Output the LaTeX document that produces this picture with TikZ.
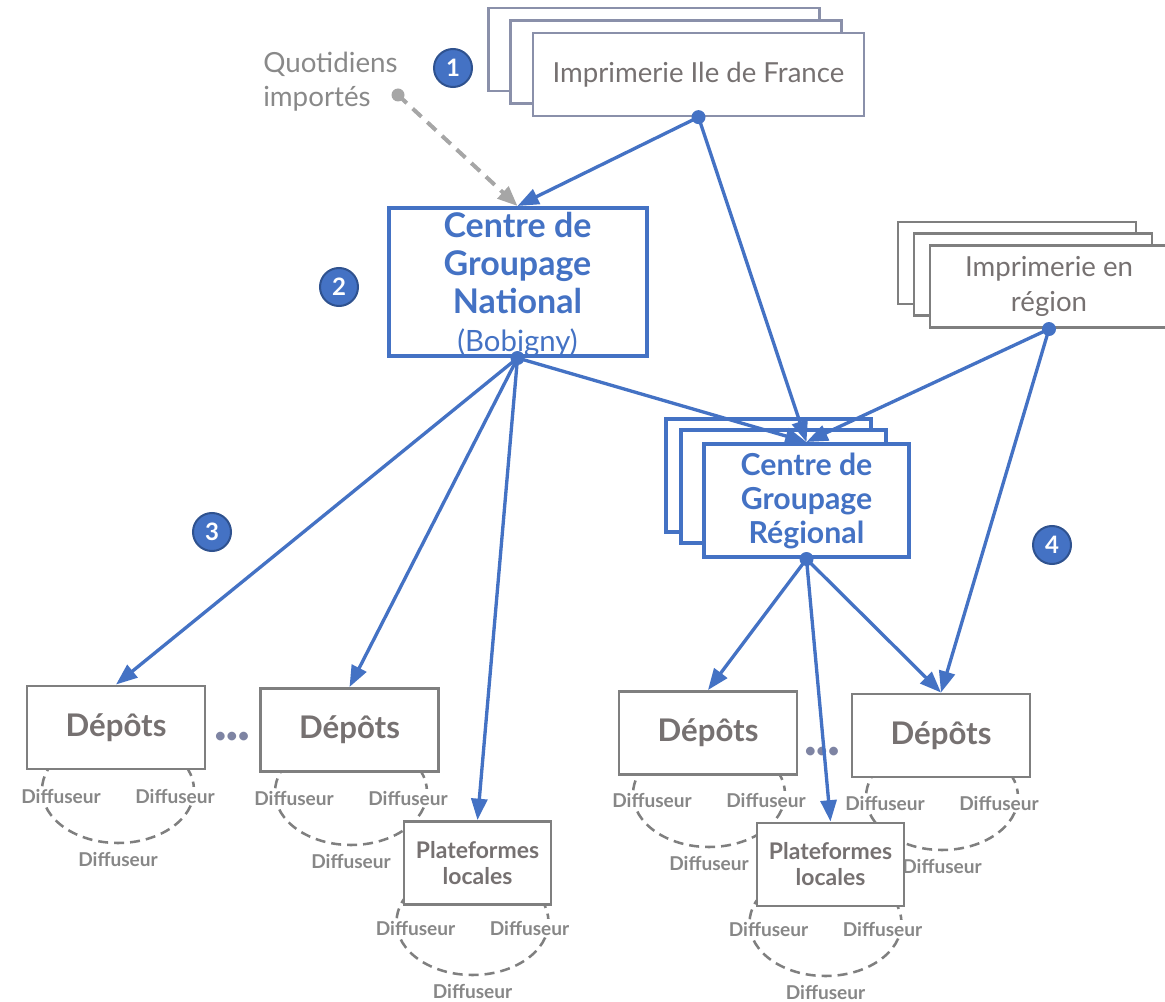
\documentclass[tikz,border=0pt]{standalone}
\usepackage{fontspec}
\setmainfont{Lato}
\usetikzlibrary{arrows.meta}
\definecolor{cblue}{HTML}{4472C4}
\definecolor{cbadge}{HTML}{2F528F}
\definecolor{cgtext}{HTML}{767171}
\definecolor{cgline}{HTML}{7F7F7F}
\definecolor{cidf}{HTML}{8A90AA}
\definecolor{cdash}{HTML}{A6A6A6}
\definecolor{cdots}{HTML}{7E84A3}
\definecolor{cquot}{HTML}{898989}
\definecolor{cdiff}{HTML}{878787}
\newcommand\diffcluster[3]{%
  \draw[arcline] (#2,#3) ellipse [x radius=76, y radius=53];
  \node[diff] (#1l) at (#2-57,#3+6) {Diffuseur};
  \node[diff] (#1r) at (#2+57,#3+6) {Diffuseur};
  \node[diff] (#1b) at (#2,#3+69) {Diffuseur};
}
\begin{document}
\begin{tikzpicture}[x=0.75pt,y=-0.75pt,
  sz/.style 2 args={minimum width=#1*0.75pt, minimum height=#2*0.75pt},
  box/.style={rectangle, draw, fill=white, inner sep=0pt, align=center},
  idfbox/.style={box, draw=cidf, line width=1.7pt, sz={331}{83}},
  regbox/.style={box, draw=cgline, line width=2pt, sz={238}{82}},
  cgrbox/.style={box, draw=cblue, line width=3pt, sz={205}{113}},
  depbox/.style={box, draw=cgline, line width=2.2pt, sz={178}{83}, text=cgtext,
    font=\fontsize{23.4}{26}\selectfont\bfseries},
  plbox/.style={box, draw=cgline, line width=2.2pt, sz={147}{83}, text=cgtext,
    font=\fontsize{17.2}{19.5}\selectfont\bfseries},
  diff/.style={fill=white, inner sep=1.2pt, text=cdiff,
    font=\fontsize{14.3}{16}\selectfont\bfseries},
  arcline/.style={draw=cgline, line width=1.9pt, dash pattern=on 7.5pt off 4.5pt},
  badge/.style={circle, fill=cblue, draw=cbadge, line width=1.5pt,
    minimum size=38*0.75pt, inner sep=0pt, text=white,
    font=\fontsize{18}{18}\selectfont\bfseries},
  srcdot/.style={circle, fill=cblue, inner sep=0pt, minimum size=14*0.75pt},
  flow/.style={draw=cblue, line width=2.5pt, -{Triangle[length=16pt,width=12pt]}},
  qflow/.style={draw=cdash, line width=3pt, dash pattern=on 9pt off 6pt,
    -{Triangle[length=15pt,width=12pt]}},
  dotsnode/.style={text=cdots, font=\fontsize{15}{15}\selectfont\bfseries, inner sep=0pt}
]
\useasboundingbox (0,0) rectangle (1165,1002);

% Diffuseur rings
\diffcluster{d1}{118}{790}
\diffcluster{d2}{351}{792}
\diffcluster{p1}{472.5}{922}
\diffcluster{d3}{709}{794}
\diffcluster{d4}{942}{797}
\diffcluster{p2}{825.5}{923}

% Imprimerie Ile de France (stack)
\node[idfbox] (idfA) at (654,49.5) {};
\node[idfbox] (idfB) at (676,62) {};
\node[idfbox, text=cgtext, font=\fontsize{20.7}{24}\selectfont] (idf) at (698.5,74.5) {Imprimerie Ile de France};

% Imprimerie en region (stack)
\node[regbox] (regA) at (1017,263) {};
\node[regbox] (regB) at (1033,274.5) {};
\node[regbox, text=cgtext, font=\fontsize{20.7}{26}\selectfont] (reg) at (1049,286.7) {Imprimerie en\\région};

% Centre de Groupage National
\node[box, draw=cblue, line width=3pt, sz={258}{148}, text=cblue,
  font=\fontsize{25.5}{28.5}\selectfont] (cgn) at (517.5,282) {};
\node[text=cblue, align=center, inner sep=0pt, font=\fontsize{25.5}{28.5}\selectfont] (cgnt) at (517.5,285)
  {{\bfseries Centre de}\\{\bfseries Groupage}\\{\bfseries National}\\{\fontsize{22}{28.5}\selectfont(Bobigny)}};

% Centre de Groupage Regional (stack)
\node[cgrbox] (cgrA) at (768,475) {};
\node[cgrbox] (cgrB) at (783.5,486.5) {};
\node[cgrbox, text=cblue, font=\fontsize{22.7}{25.5}\selectfont\bfseries] (cgr) at (806.5,500.5)
  {Centre de\\Groupage\\Régional};

% Depots and platforms
\node[depbox] (dep1) at (116,727.5) {Dépôts};
\node[depbox] (dep2) at (349.5,730) {Dépôts};
\node[depbox] (dep3) at (708,733) {Dépôts};
\node[depbox] (dep4) at (941,735.5) {Dépôts};
\node[plbox] (pl1) at (477.5,863) {Plateformes\\locales};
\node[plbox] (pl2) at (830.5,864.5) {Plateformes\\locales};
\node[dotsnode] (dots1) at (232,737) {•••};
\node[dotsnode] (dots2) at (822,752) {•••};

% Quotidiens importes
\node[anchor=west, align=left, text=cquot, font=\fontsize{20.8}{25.5}\selectfont, inner sep=0pt] (quot) at (263,82) {Quotidiens\\importés};
\node[circle, fill=cdash, inner sep=0pt, minimum size=13*0.75pt] (dq) at (398,95) {};

% source dots
\node[srcdot] (sIdf) at (idf.south) {};
\node[srcdot] (sReg) at (reg.south) {};
\node[srcdot] (sCgn) at (cgn.south) {};
\node[srcdot] (sCgr) at (cgr.south) {};

% connectors
\draw[qflow] (dq.center) -- (cgn.north);
\draw[flow] (sIdf.center) -- (cgn.north);
\draw[flow] (sIdf.center) -- (cgr.north);
\draw[flow] (sCgn.center) -- (cgr.north);
\draw[flow] (sReg.center) -- (cgr.north);
\draw[flow] (sReg.center) -- (dep4.north);
\draw[flow] (sCgn.center) -- (dep1.north);
\draw[flow] (sCgn.center) -- (dep2.north);
\draw[flow] (sCgn.center) -- (pl1.north);
\draw[flow] (sCgr.center) -- (dep3.north);
\draw[flow] (sCgr.center) -- (pl2.north);
\draw[flow] (sCgr.center) -- (dep4.north);

% badges
\node[badge] (b1) at (453,68) {1};
\node[badge] (b2) at (339,287) {2};
\node[badge] (b3) at (212,532) {3};
\node[badge] (b4) at (1052,545) {4};
\end{tikzpicture}
\end{document}
